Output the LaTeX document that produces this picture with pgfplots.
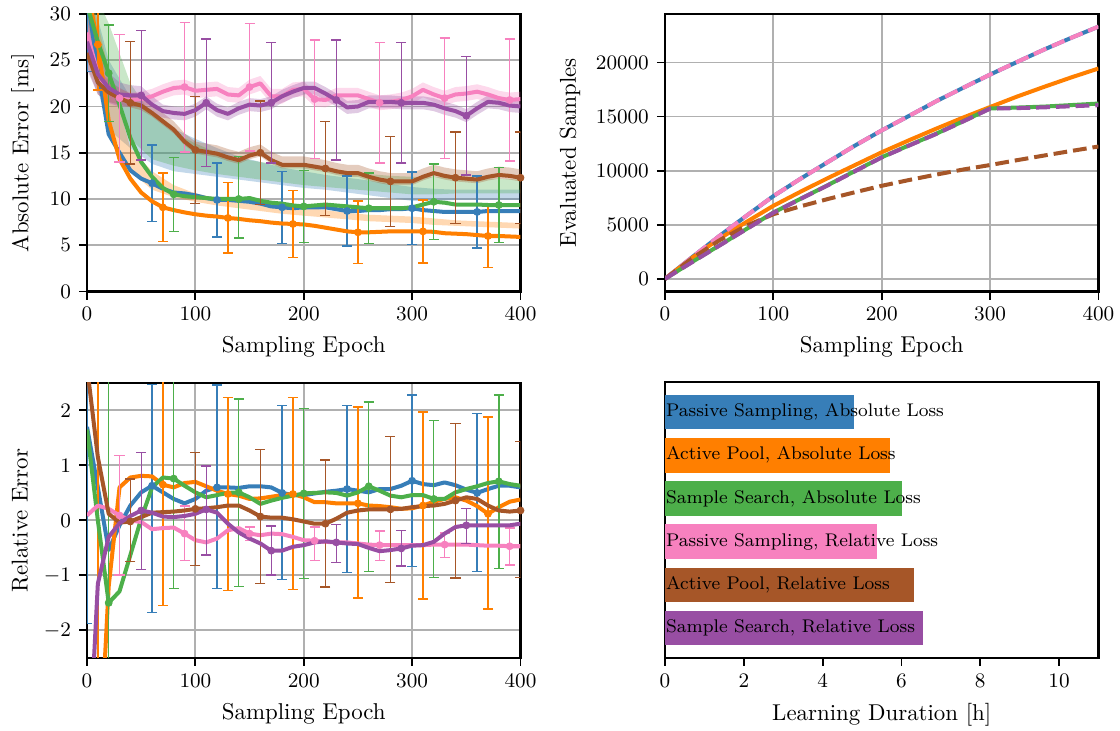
\documentclass[border=0pt]{standalone}
\usepackage{pgfplots}
\pgfplotsset{compat=1.18}
\usepackage{pgfplotstable}
\usepgfplotslibrary{fillbetween}

\definecolor{cblue}{HTML}{377EB8}
\definecolor{corange}{HTML}{FF7F00}
\definecolor{cgreen}{HTML}{4DAF4A}
\definecolor{cpink}{HTML}{F781BF}
\definecolor{cbrown}{HTML}{A65628}
\definecolor{cpurple}{HTML}{984EA3}
\definecolor{gridgray}{HTML}{B0B0B0}

% b = passive/abs, o = active pool/abs, g = sample search/abs,
% p = passive/rel, r = active pool/rel, u = sample search/rel

% ---------- absolute error: smoothed mean curves ----------
\pgfplotstableread{
x   b     o     g     p     r     u
0   32.0  33.0  31.0  28.0  25.8  27.0
10  24.0  26.7  27.0  23.5  22.6  23.5
20  17.0  18.5  23.6  21.5  21.5  22.0
30  15.0  14.3  20.2  20.9  20.9  21.3
40  13.1  12.2  16.6  20.7  20.4  21.2
50  12.2  10.7  14.0  20.8  20.1  21.2
60  11.7  9.75  12.4  21.1  19.3  20.2
70  11.1  9.1   11.2  21.6  18.4  19.5
80  10.7  8.8   10.5  22.0  17.5  19.3
90  10.6  8.55  10.3  22.1  16.2  19.2
100 10.4  8.35  10.2  21.7  15.3  19.6
110 10.1  8.2   10.1  21.8  15.1  20.4
120 9.9   8.1   10.0  21.9  14.9  19.6
130 9.9   7.95  10.0  21.3  14.5  19.2
140 9.8   7.85  10.0  21.2  14.2  19.8
150 9.7   7.7   10.1  22.1  14.7  20.2
160 9.5   7.6   9.8   22.5  15.0  20.1
170 9.2   7.45  9.6   21.1  14.2  20.4
180 9.1   7.35  9.5   21.1  13.7  21.1
190 9.0   7.3   9.3   21.8  13.7  21.6
200 9.1   7.25  9.2   21.9  13.7  22.0
210 9.1   7.1   9.3   20.8  13.5  22.0
220 9.1   6.9   9.4   20.7  13.3  21.4
230 8.9   6.7   9.3   21.2  13.0  20.7
240 8.7   6.5   9.2   21.2  12.8  19.9
250 8.7   6.4   9.1   21.2  12.8  20.0
260 8.8   6.4   9.0   20.8  12.4  20.5
270 8.8   6.45  9.0   20.4  12.1  20.5
280 8.9   6.5   9.0   20.5  11.9  20.5
290 8.9   6.5   9.0   20.7  11.9  20.4
300 9.0   6.5   9.1   21.1  11.9  20.4
310 8.8   6.5   9.4   21.8  12.4  20.4
320 8.7   6.45  9.7   21.3  12.8  20.2
330 8.6   6.3   9.6   20.9  12.5  19.8
340 8.6   6.25  9.4   21.3  12.3  19.5
350 8.6   6.2   9.4   21.4  12.2  19.0
360 8.6   6.1   9.4   21.6  12.1  19.8
370 8.7   6.0   9.35  21.3  12.4  20.5
380 8.7   6.0   9.35  20.9  12.6  20.4
390 8.7   5.95  9.35  20.7  12.5  20.1
400 8.7   5.9   9.35  20.8  12.3  20.0
}\absmean

% ---------- absolute error: spread bands (relative-loss runs) ----------
\pgfplotstableread{
x   plo   phi   rlo   rhi   ulo   uhi
0   26.5  29.5  24.3  27.3  24.0  30.0
10  22.0  25.0  21.3  24.0  21.3  25.7
20  20.3  22.7  20.5  22.8  20.4  23.6
30  19.9  21.9  20.2  22.0  20.0  22.6
40  19.9  21.5  19.9  21.4  20.1  22.3
50  20.0  21.6  19.6  21.1  20.2  22.2
60  20.3  21.9  18.9  20.2  19.3  21.1
70  20.8  22.4  18.0  19.3  18.8  20.2
80  21.2  22.8  17.1  18.4  18.6  20.0
90  21.3  22.9  15.8  17.1  18.5  19.9
100 20.9  22.5  14.9  16.2  18.9  20.3
110 21.0  22.6  14.7  16.0  19.7  21.1
120 21.1  22.7  14.5  15.8  18.9  20.3
130 20.5  22.1  14.1  15.4  18.5  19.9
140 20.4  22.0  13.8  15.1  19.1  20.5
150 21.3  22.9  14.3  15.6  19.5  20.9
160 21.7  23.3  14.6  15.9  19.4  20.8
170 20.3  21.9  13.8  15.1  19.7  21.1
180 20.3  21.9  13.3  14.6  20.4  21.8
190 21.0  22.6  13.3  14.6  20.9  22.3
200 21.1  22.7  13.3  14.6  21.3  22.7
210 20.0  21.6  13.1  14.4  21.3  22.7
220 19.9  21.5  12.9  14.2  20.7  22.1
230 20.4  22.0  12.6  13.9  20.0  21.4
240 20.4  22.0  12.4  13.7  19.2  20.6
250 20.4  22.0  12.4  13.7  19.3  20.7
260 20.0  21.6  12.0  13.3  19.8  21.2
270 19.6  21.2  11.7  13.0  19.8  21.2
280 19.7  21.3  11.5  12.8  19.8  21.2
290 19.9  21.5  11.5  12.8  19.7  21.1
300 20.3  21.9  11.5  12.8  19.7  21.1
310 21.0  22.6  12.0  13.3  19.7  21.1
320 20.5  22.1  12.4  13.7  19.5  20.9
330 20.1  21.7  12.1  13.4  19.1  20.5
340 20.5  22.1  11.9  13.2  18.8  20.2
350 20.6  22.2  11.8  13.1  18.3  19.7
360 20.8  22.4  11.7  13.0  19.1  20.5
370 20.5  22.1  12.0  13.3  19.8  21.2
380 20.1  21.7  12.2  13.5  19.7  21.1
390 19.9  21.5  12.1  13.4  19.4  20.8
400 20.0  21.6  11.9  13.2  19.3  20.7
}\absbandrel

% ---------- absolute error: spread bands (absolute-loss runs) ----------
\pgfplotstableread{
x   blo   bhi   glo   ghi   olo   ohi
0   26.0  34.0  29.0  34.0  28.0  34.0
20  17.5  25.0  22.5  29.0  18.0  24.0
40  15.5  21.0  16.5  22.5  13.0  15.5
60  13.8  19.0  14.3  19.0  11.0  13.0
80  13.0  17.6  13.6  17.2  10.2  11.5
100 12.7  16.5  13.1  16.0  9.7   10.6
120 12.4  15.5  12.7  15.0  9.3   10.1
140 12.1  14.6  12.4  14.4  9.0   9.8
160 11.8  14.0  12.1  14.0  8.7   9.5
180 11.5  13.4  11.8  13.7  8.4   9.3
200 11.2  13.0  11.5  13.5  8.2   9.1
220 11.0  12.6  11.3  13.3  8.0   8.8
240 10.7  12.3  11.1  13.0  7.8   8.5
260 10.4  12.0  10.9  12.7  7.6   8.3
280 10.1  11.6  10.7  12.5  7.5   8.2
300 9.8   11.3  10.5  12.4  7.4   8.1
320 9.8   11.1  10.5  12.4  7.2   7.9
340 9.9   11.0  10.6  12.3  7.1   7.7
360 9.9   11.0  10.6  12.2  7.0   7.6
380 9.9   11.0  10.6  12.2  6.9   7.5
400 9.9   11.0  10.6  12.1  6.8   7.4
}\absbandabs

% ---------- absolute error: marked points with spread ----------
\pgfplotstableread{
x   m     up    dn
0   32.0  8.2   8.2
60  11.7  4.15  4.15
120 9.9   4.0   4.0
180 9.1   3.9   3.9
240 8.7   3.8   3.8
300 9.0   3.9   3.9
360 8.6   3.9   3.9
}\abserrb
\pgfplotstableread{
x   m     up    dn
10  26.7  4.9   4.9
70  9.1   3.7   3.7
130 7.95  3.8   3.8
190 7.3   3.6   3.6
250 6.4   3.4   3.4
310 6.5   3.4   3.4
370 6.0   3.4   3.4
}\abserro
\pgfplotstableread{
x   m     up    dn
20  23.6  5.2   5.2
80  10.5  4.0   4.0
140 10.0  4.6   4.2
200 9.2   3.9   3.9
260 9.0   3.8   3.8
320 9.7   4.1   4.1
380 9.35  4.05  4.05
}\abserrg
\pgfplotstableread{
x   m     up    dn
30  20.9  6.9   6.9
90  22.1  7.0   7.0
150 22.1  6.9   6.9
210 20.8  6.4   6.4
270 20.4  6.5   6.5
330 20.9  6.5   6.5
390 20.7  6.6   6.6
}\abserrp
\pgfplotstableread{
x   m     up    dn
40  20.4  6.6   6.6
100 15.3  5.8   5.8
160 15.0  5.6   5.6
220 13.3  5.1   5.1
280 11.9  4.85  4.85
340 12.3  4.95  4.95
400 12.3  4.95  4.95
}\abserrr
\pgfplotstableread{
x   m     up    dn
50  21.2  7.0   7.0
110 20.4  6.9   6.9
170 20.4  6.5   6.5
230 20.7  6.5   6.5
290 20.4  6.5   6.5
350 19.0  6.4   6.4
}\abserru

% ---------- relative error: smoothed mean curves ----------
\pgfplotstableread{
x   b      o      g      p      r      u
0   1.7    -8.0   1.65   0.09   2.8    -5.0
10  0.6    -5.0   0.0    0.27   1.15   -1.15
20  -0.54  -1.2   -1.5   0.21   0.12   -0.3
30  -0.09  0.6    -1.29  0.09   -0.04  -0.05
40  0.27   0.78   -0.63  0.0    -0.02  0.08
50  0.51   0.81   0.03   -0.03  0.06   0.18
60  0.63   0.80   0.60   -0.16  0.14   0.14
70  0.51   0.65   0.78   -0.14  0.15   0.07
80  0.39   0.60   0.76   -0.13  0.16   0.06
90  0.31   0.68   0.63   -0.24  0.18   0.08
100 0.39   0.70   0.51   -0.36  0.21   0.12
110 0.54   0.62   0.42   -0.40  0.22   0.20
120 0.60   0.54   0.46   -0.33  0.24   0.14
130 0.60   0.48   0.50   -0.18  0.27   -0.06
140 0.59   0.45   0.51   -0.14  0.27   -0.22
150 0.62   0.39   0.42   -0.24  0.18   -0.33
160 0.62   0.40   0.30   -0.27  0.07   -0.42
170 0.60   0.43   0.36   -0.24  0.05   -0.55
180 0.50   0.46   0.41   -0.25  0.05   -0.55
190 0.46   0.48   0.45   -0.30  0.02   -0.48
200 0.46   0.42   0.49   -0.36  -0.02  -0.45
210 0.49   0.33   0.50   -0.37  -0.06  -0.40
220 0.52   0.33   0.51   -0.39  -0.06  -0.38
230 0.54   0.31   0.50   -0.40  0.03   -0.40
240 0.57   0.31   0.45   -0.40  0.14   -0.42
250 0.54   0.31   0.51   -0.42  0.18   -0.43
260 0.51   0.27   0.62   -0.44  0.20   -0.50
270 0.57   0.26   0.54   -0.45  0.20   -0.56
280 0.57   0.24   0.45   -0.45  0.20   -0.54
290 0.63   0.21   0.42   -0.45  0.21   -0.51
300 0.72   0.22   0.46   -0.45  0.24   -0.46
310 0.66   0.27   0.46   -0.45  0.26   -0.45
320 0.64   0.34   0.39   -0.44  0.27   -0.39
330 0.69   0.39   0.39   -0.44  0.30   -0.24
340 0.64   0.42   0.51   -0.44  0.36   -0.12
350 0.56   0.36   0.57   -0.44  0.42   -0.09
360 0.50   0.26   0.62   -0.45  0.39   -0.09
370 0.57   0.12   0.68   -0.46  0.27   -0.09
380 0.63   0.24   0.71   -0.46  0.18   -0.09
390 0.63   0.34   0.66   -0.47  0.16   -0.09
400 0.60   0.38   0.63   -0.47  0.18   -0.06
}\relmean

% ---------- relative error: marked points with spread ----------
\pgfplotstableread{
x   m      up    dn
0   1.7    4.2   3.58
}\relerrbzero
\pgfplotstableread{
x   m      up    dn
60  0.63   1.84  2.31
120 0.60   1.86  1.84
180 0.50   1.59  1.58
240 0.57   1.52  1.52
300 0.72   1.56  1.56
360 0.50   1.44  1.43
}\relerrb
\pgfplotstableread{
x   m      up    dn
10  -5.0   8.0   3.0
70  0.65   2.2   2.2
130 0.48   1.76  1.76
190 0.48   1.76  1.74
250 0.31   1.75  1.72
310 0.27   1.70  1.70
370 0.12   1.76  1.73
}\relerro
\pgfplotstableread{
x   m      up    dn
20  -1.5   5.0   5.0
80  0.76   2.0   2.0
140 0.51   1.70  1.71
200 0.49   1.55  1.55
260 0.62   1.53  1.55
320 0.39   1.43  1.43
380 0.71   1.57  1.59
}\relerrg
\pgfplotstableread{
x   m      up    dn
30  0.09   1.09  1.08
90  -0.24  0.50  0.49
150 -0.24  0.12  0.13
210 -0.37  0.25  0.36
270 -0.45  0.26  0.28
330 -0.44  0.21  0.23
390 -0.47  0.33  0.34
}\relerrp
\pgfplotstableread{
x   m      up    dn
40  -0.02  0.77  0.73
100 0.21   1.03  1.03
160 0.07   1.22  1.22
220 -0.06  1.16  1.15
280 0.20   1.33  1.33
340 0.36   1.40  1.41
400 0.18   1.25  1.22
}\relerrr
\pgfplotstableread{
x   m      up    dn
50  0.18   1.06  1.07
110 0.20   0.79  0.83
170 -0.55  0.45  0.44
230 -0.40  0.33  0.36
290 -0.51  0.33  0.32
350 -0.09  0.31  0.33
}\relerru

% ---------- evaluated samples ----------
\pgfplotstableread{
x   b      o      g      p      r      u
0   0      0      0      0      0      0
25  2000   1950   1560   2000   1900   1540
50  3950   3700   3080   3950   3550   3060
75  5820   5250   4600   5820   4900   4580
100 7650   6750   6130   7650   5975   6110
125 9250   8050   7400   9250   6700   7380
150 10780  9300   8650   10780  7370   8630
175 12300  10500  9950   12300  8000   9930
200 13720  11700  11240  13720  8600   11220
225 15050  12800  12330  15050  9130   12310
250 16400  13870  13400  16400  9630   13380
275 17650  14900  14560  17650  10100  14540
300 18880  15880  15750  18880  10520  15730
325 20050  16850  15830  20050  10970  15780
350 21200  17750  15920  21200  11400  15850
375 22280  18620  16060  22280  11820  15950
400 23310  19440  16200  23310  12230  16050
}\samples

\pgfplotsset{
  panel/.style={
    scale only axis,
    width=189.3pt,
    axis line style={line width=0.9pt},
    every tick/.style={black, line width=0.8pt},
    tick align=outside,
    major tick length=3.5pt,
    tick pos=left,
    tick label style={font=\small},
    label style={font=\normalsize},
  },
  epochaxis/.style={
    panel, grid=major,
    major grid style={line width=0.8pt, draw=gridgray},
    xmin=0, xmax=400, xtick={0,100,200,300,400},
    xlabel={Sampling Epoch},
  },
  meanline/.style={line width=1.75pt, line join=round, no marks},
  dashline/.style={line width=1.75pt, line join=round, no marks, dash pattern=on 6pt off 2.6pt},
  errpts/.style={only marks, mark=*, mark size=1.5pt,
    error bars/y dir=both, error bars/y explicit,
    error bars/error bar style={line width=0.6pt},
    error bars/error mark options={rotate=90, mark size=2.2pt, line width=0.6pt}},
  band/.style={draw=none, fill opacity=0.3},
}

\begin{document}
\begin{tikzpicture}

% ================= absolute error =================
\begin{axis}[epochaxis, at={(38.0pt,191.9pt)}, anchor=south west, height=121.2pt,
  ymin=0, ymax=30, ytick={0,5,...,30}, ylabel={Absolute Error [ms]}]
  \addplot[draw=none, name path=blo, forget plot] table[x=x, y=blo] {\absbandabs};
  \addplot[draw=none, name path=bhi, forget plot] table[x=x, y=bhi] {\absbandabs};
  \addplot[band, fill=cblue] fill between[of=blo and bhi];
  \addplot[draw=none, name path=olo, forget plot] table[x=x, y=olo] {\absbandabs};
  \addplot[draw=none, name path=ohi, forget plot] table[x=x, y=ohi] {\absbandabs};
  \addplot[band, fill=corange] fill between[of=olo and ohi];
  \addplot[draw=none, name path=glo, forget plot] table[x=x, y=glo] {\absbandabs};
  \addplot[draw=none, name path=ghi, forget plot] table[x=x, y=ghi] {\absbandabs};
  \addplot[band, fill=cgreen] fill between[of=glo and ghi];
  \addplot[draw=none, name path=plo, forget plot] table[x=x, y=plo] {\absbandrel};
  \addplot[draw=none, name path=phi, forget plot] table[x=x, y=phi] {\absbandrel};
  \addplot[band, fill=cpink] fill between[of=plo and phi];
  \addplot[draw=none, name path=rlo, forget plot] table[x=x, y=rlo] {\absbandrel};
  \addplot[draw=none, name path=rhi, forget plot] table[x=x, y=rhi] {\absbandrel};
  \addplot[band, fill=cbrown] fill between[of=rlo and rhi];
  \addplot[draw=none, name path=ulo, forget plot] table[x=x, y=ulo] {\absbandrel};
  \addplot[draw=none, name path=uhi, forget plot] table[x=x, y=uhi] {\absbandrel};
  \addplot[band, fill=cpurple] fill between[of=ulo and uhi];

  \addplot[meanline, cblue] table[x=x, y=b] {\absmean};
  \addplot[errpts, cblue] table[x=x, y=m, y error plus=up, y error minus=dn] {\abserrb};
  \addplot[meanline, corange] table[x=x, y=o] {\absmean};
  \addplot[errpts, corange] table[x=x, y=m, y error plus=up, y error minus=dn] {\abserro};
  \addplot[meanline, cgreen] table[x=x, y=g] {\absmean};
  \addplot[errpts, cgreen] table[x=x, y=m, y error plus=up, y error minus=dn] {\abserrg};
  \addplot[meanline, cpink] table[x=x, y=p] {\absmean};
  \addplot[errpts, cpink] table[x=x, y=m, y error plus=up, y error minus=dn] {\abserrp};
  \addplot[meanline, cbrown] table[x=x, y=r] {\absmean};
  \addplot[errpts, cbrown] table[x=x, y=m, y error plus=up, y error minus=dn] {\abserrr};
  \addplot[meanline, cpurple] table[x=x, y=u] {\absmean};
  \addplot[errpts, cpurple] table[x=x, y=m, y error plus=up, y error minus=dn] {\abserru};
\end{axis}

% ================= evaluated samples =================
\begin{axis}[epochaxis, at={(290.4pt,191.9pt)}, anchor=south west, height=121.2pt,
  ymin=-1170, ymax=24480, ytick={0,5000,10000,15000,20000},
  scaled y ticks=false, yticklabel style={/pgf/number format/1000 sep={}},
  ylabel={Evaluated Samples}]
  \addplot[meanline, cblue] table[x=x, y=b] {\samples};
  \addplot[meanline, corange] table[x=x, y=o] {\samples};
  \addplot[meanline, cgreen] table[x=x, y=g] {\samples};
  \addplot[dashline, cpink] table[x=x, y=p] {\samples};
  \addplot[dashline, cbrown] table[x=x, y=r] {\samples};
  \addplot[dashline, cpurple] table[x=x, y=u] {\samples};
\end{axis}

% ================= relative error =================
\begin{axis}[epochaxis, at={(38.0pt,31.9pt)}, anchor=south west, height=120.1pt,
  ymin=-2.5, ymax=2.5, ytick={-2,-1,0,1,2}, ylabel={Relative Error}]
  \addplot[meanline, cblue] table[x=x, y=b] {\relmean};
  \addplot[errpts, cblue, mark size=0pt] table[x=x, y=m, y error plus=up, y error minus=dn] {\relerrbzero};
  \addplot[errpts, cblue] table[x=x, y=m, y error plus=up, y error minus=dn] {\relerrb};
  \addplot[meanline, corange] table[x=x, y=o] {\relmean};
  \addplot[errpts, corange] table[x=x, y=m, y error plus=up, y error minus=dn] {\relerro};
  \addplot[meanline, cgreen] table[x=x, y=g] {\relmean};
  \addplot[errpts, cgreen] table[x=x, y=m, y error plus=up, y error minus=dn] {\relerrg};
  \addplot[meanline, cpink] table[x=x, y=p] {\relmean};
  \addplot[errpts, cpink] table[x=x, y=m, y error plus=up, y error minus=dn] {\relerrp};
  \addplot[meanline, cbrown] table[x=x, y=r] {\relmean};
  \addplot[errpts, cbrown] table[x=x, y=m, y error plus=up, y error minus=dn] {\relerrr};
  \addplot[meanline, cpurple] table[x=x, y=u] {\relmean};
  \addplot[errpts, cpurple] table[x=x, y=m, y error plus=up, y error minus=dn] {\relerru};
\end{axis}

% ================= learning duration =================
\begin{axis}[panel, at={(290.4pt,31.9pt)}, anchor=south west, height=120.4pt,
  xbar, bar shift=0pt, bar width=0.8,
  xmin=0, xmax=11, xtick={0,2,...,10},
  ymin=-0.69, ymax=5.69, y dir=reverse, ytick=\empty,
  xlabel={Learning Duration [h]}]
  \addplot[draw=none, fill=cblue]   coordinates {(4.79,0)};
  \addplot[draw=none, fill=corange] coordinates {(5.71,1)};
  \addplot[draw=none, fill=cgreen]  coordinates {(6.01,2)};
  \addplot[draw=none, fill=cpink]   coordinates {(5.38,3)};
  \addplot[draw=none, fill=cbrown]  coordinates {(6.31,4)};
  \addplot[draw=none, fill=cpurple] coordinates {(6.54,5)};
  \node[anchor=west, font=\footnotesize, inner sep=0.3pt] at (axis cs:0,0) {Passive Sampling, Absolute Loss};
  \node[anchor=west, font=\footnotesize, inner sep=0.3pt] at (axis cs:0,1) {Active Pool, Absolute Loss};
  \node[anchor=west, font=\footnotesize, inner sep=0.3pt] at (axis cs:0,2) {Sample Search, Absolute Loss};
  \node[anchor=west, font=\footnotesize, inner sep=0.3pt] at (axis cs:0,3) {Passive Sampling, Relative Loss};
  \node[anchor=west, font=\footnotesize, inner sep=0.3pt] at (axis cs:0,4) {Active Pool, Relative Loss};
  \node[anchor=west, font=\footnotesize, inner sep=0.3pt] at (axis cs:0,5) {Sample Search, Relative Loss};
\end{axis}

\pgfresetboundingbox
\path[use as bounding box] (0,0) rectangle (489.1pt,319.2pt);
\end{tikzpicture}
\end{document}
